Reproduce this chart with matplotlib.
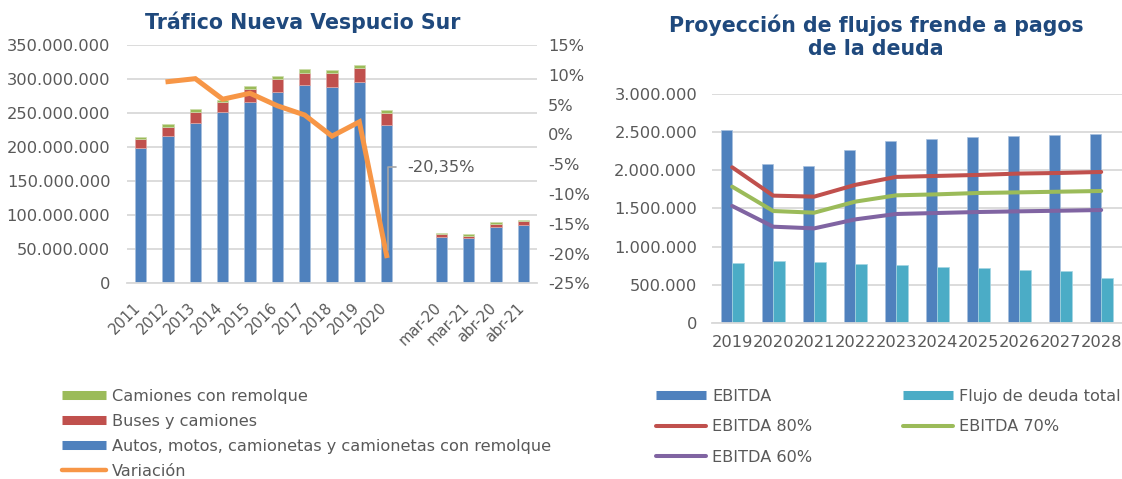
import numpy as np
import matplotlib
matplotlib.use("Agg")
import matplotlib.pyplot as plt
from matplotlib.lines import Line2D
from matplotlib.transforms import ScaledTranslation

# ---- datos: tráfico (millones de vehículos) ----
categorias = ['2011', '2012', '2013', '2014', '2015', '2016', '2017', '2018', '2019', '2020',
              '', 'mar-20', 'mar-21', 'abr-20', 'abr-21']
autos = [199.0, 216.0, 235.0, 251.0, 267.0, 281.0, 291.0, 289.0, 296.0, 233.0,
         np.nan, 67.5, 66.0, 82.0, 85.0]
buses = [12.5, 13.5, 17.0, 15.5, 18.0, 19.0, 18.5, 20.0, 20.0, 17.0,
         np.nan, 5.3, 4.0, 5.3, 6.0]
camiones = [3.0, 4.0, 4.5, 3.0, 4.5, 5.0, 5.5, 5.0, 5.0, 4.5,
            np.nan, 1.5, 2.0, 2.0, 2.0]
variacion = [np.nan, 8.85, 9.35, 5.9, 6.9, 4.8, 3.25, -0.3, 2.1, -20.35,
             np.nan, np.nan, np.nan, np.nan, np.nan]

# ---- datos: proyección de flujos ----
anios = ['2019', '2020', '2021', '2022', '2023', '2024', '2025', '2026', '2027', '2028']
ebitda = [2531000, 2080000, 2058000, 2264000, 2391000, 2409000, 2435000, 2448000, 2461000, 2474000]
flujo_deuda = [784000, 806000, 802000, 771000, 753000, 731000, 714000, 696000, 675000, 583000]
ebitda80 = [2041000, 1669000, 1656000, 1810000, 1915000, 1928000, 1941000, 1959000, 1967000, 1980000]
ebitda70 = [1787000, 1467000, 1445000, 1590000, 1673000, 1686000, 1704000, 1712000, 1721000, 1730000]
ebitda60 = [1533000, 1261000, 1239000, 1357000, 1428000, 1441000, 1454000, 1463000, 1471000, 1480000]

AZUL = '#4F81BD'
ROJO = '#C0504D'
VERDE = '#9BBB59'
NARANJA = '#F79646'
MORADO = '#8064A2'
CIAN = '#4BACC6'
GRIS_TXT = '#595959'
GRIS_GRID = '#D9D9D9'
TITULO = '#1F497D'

FS = 11.7   # texto de ejes y leyendas
FT = 14.8   # títulos

plt.rcParams['font.family'] = 'DejaVu Sans'
plt.rcParams['font.size'] = FS


def miles(v, _=None):
    return f"{v:,.0f}".replace(",", ".")


fig = plt.figure(figsize=(11.22, 4.79), dpi=100)

# ================= gráfico izquierdo =================
ax = fig.add_axes([127 / 1122, 1 - 283.3 / 479, 410 / 1122, 238.3 / 479])
x = np.arange(len(categorias))
a = np.array(autos) * 1e6
b = np.array(buses) * 1e6
c = np.array(camiones) * 1e6
w = 0.42
ax.bar(x, a, w, color=AZUL, edgecolor='#A7C0DE', linewidth=0.5, zorder=2)
ax.bar(x, b, w, bottom=a, color=ROJO, edgecolor='#E0A8A6', linewidth=0.5, zorder=2)
ax.bar(x, c, w, bottom=a + b, color=VERDE, edgecolor='#CDDDAC', linewidth=0.5, zorder=2)

ax.set_xlim(-0.5, len(categorias) - 0.5)
ax.set_ylim(0, 350e6)
ax.set_yticks(np.arange(0, 350e6 + 1, 50e6))
ax.yaxis.set_major_formatter(miles)
ax.set_xticks(x)
ax.set_xticklabels(categorias, rotation=45, ha='right', va='center', rotation_mode='anchor')
ax.tick_params(axis='both', length=0, colors=GRIS_TXT, labelsize=FS)
ax.tick_params(axis='x', labelsize=10.6, pad=16)
ax.tick_params(axis='y', pad=12)
desplazar = ScaledTranslation(-2 / 100, 0, fig.dpi_scale_trans)
for lbl in ax.get_xticklabels():
    lbl.set_transform(lbl.get_transform() + desplazar)
ax.grid(axis='y', color=GRIS_GRID, linewidth=1.3, zorder=0)
ax.set_axisbelow(True)
for s in ['top', 'right', 'left']:
    ax.spines[s].set_visible(False)
ax.spines['bottom'].set_color(GRIS_GRID)
ax.spines['bottom'].set_linewidth(1.3)

ax2 = ax.twinx()
ax2.plot(x, variacion, color=NARANJA, linewidth=3.6, solid_joinstyle='miter', zorder=3)
ax2.set_ylim(-25, 15)
ax2.set_yticks(np.arange(-25, 16, 5))
ax2.set_yticklabels([f"{v}%" for v in range(-25, 16, 5)])
ax2.tick_params(axis='y', length=0, colors=GRIS_TXT, labelsize=FS, pad=8)
for s in ax2.spines.values():
    s.set_visible(False)
ax2.annotate('-20,35%', xy=(9.05, -20.35), xytext=(9.75, -5.5), textcoords='data',
             ha='left', va='center', fontsize=FS, color=GRIS_TXT,
             arrowprops=dict(arrowstyle='-', color='#A6A6A6', linewidth=1.2,
                             connectionstyle='angle,angleA=0,angleB=90,rad=0',
                             relpos=(0, 0.5), shrinkA=6, shrinkB=4))

fig.text(303 / 1122, 1 - 22 / 479, 'Tráfico Nueva Vespucio Sur', ha='center', va='center',
         fontsize=FT, fontweight='bold', color=TITULO)

h_izq = [
    Line2D([], [], color=VERDE, linewidth=6.5, solid_capstyle='butt'),
    Line2D([], [], color=ROJO, linewidth=6.5, solid_capstyle='butt'),
    Line2D([], [], color=AZUL, linewidth=6.5, solid_capstyle='butt'),
    Line2D([], [], color=NARANJA, linewidth=3.2, solid_capstyle='round'),
]
l_izq = ['Camiones con remolque', 'Buses y camiones',
         'Autos, motos, camionetas y camionetas con remolque', 'Variación']
fig.legend(h_izq, l_izq, loc='upper left', bbox_to_anchor=(62 / 1122, 1 - 388.5 / 479),
           frameon=False, fontsize=FS - 0.1, labelcolor=GRIS_TXT, handlelength=2.7,
           handletextpad=0.4, labelspacing=0.63, borderpad=0, borderaxespad=0)

# ================= gráfico derecho =================
bx = fig.add_axes([711.7 / 1122, 1 - 322.7 / 479, 410 / 1122, 228.4 / 479])
xa = np.arange(len(anios))
bw = 0.285
bx.bar(xa - bw / 2, ebitda, bw, color=AZUL, edgecolor='#A7C0DE', linewidth=0.5, zorder=2)
bx.bar(xa + bw / 2, flujo_deuda, bw, color=CIAN, edgecolor='#A5D5E2', linewidth=0.5, zorder=2)
bx.plot(xa, ebitda80, color=ROJO, linewidth=2.9, solid_capstyle='round', zorder=3)
bx.plot(xa, ebitda70, color=VERDE, linewidth=2.9, solid_capstyle='round', zorder=3)
bx.plot(xa, ebitda60, color=MORADO, linewidth=2.9, solid_capstyle='round', zorder=3)

bx.set_xlim(-0.5, len(anios) - 0.5)
bx.set_ylim(0, 3000000)
bx.set_yticks(np.arange(0, 3000001, 500000))
bx.yaxis.set_major_formatter(miles)
bx.set_xticks(xa)
bx.set_xticklabels(anios)
bx.tick_params(axis='both', length=0, colors=GRIS_TXT, labelsize=FS)
bx.tick_params(axis='y', pad=10.5)
bx.tick_params(axis='x', pad=8.5)
bx.grid(axis='y', color=GRIS_GRID, linewidth=1.3, zorder=0)
bx.set_axisbelow(True)
for s in ['top', 'right', 'left']:
    bx.spines[s].set_visible(False)
bx.spines['bottom'].set_color(GRIS_GRID)
bx.spines['bottom'].set_linewidth(1.3)

fig.text(876 / 1122, 1 - 37 / 479, 'Proyección de flujos frende a pagos\nde la deuda',
         ha='center', va='center', fontsize=FT, fontweight='bold', color=TITULO,
         linespacing=1.2)

h_der = [
    Line2D([], [], color=AZUL, linewidth=6.5, solid_capstyle='butt'),
    Line2D([], [], color=ROJO, linewidth=2.9, solid_capstyle='round'),
    Line2D([], [], color=MORADO, linewidth=2.9, solid_capstyle='round'),
    Line2D([], [], color=CIAN, linewidth=6.5, solid_capstyle='butt'),
    Line2D([], [], color=VERDE, linewidth=2.9, solid_capstyle='round'),
]
l_der = ['EBITDA', 'EBITDA 80%', 'EBITDA 60%', 'Flujo de deuda total', 'EBITDA 70%']
fig.legend(h_der, l_der, loc='upper left', bbox_to_anchor=(656 / 1122, 1 - 389 / 479),
           ncol=2, frameon=False, fontsize=FS - 0.1, labelcolor=GRIS_TXT, handlelength=3.1,
           handletextpad=0.4, labelspacing=0.95, columnspacing=5.6,
           borderpad=0, borderaxespad=0)

fig.savefig('out.png', dpi=100)
